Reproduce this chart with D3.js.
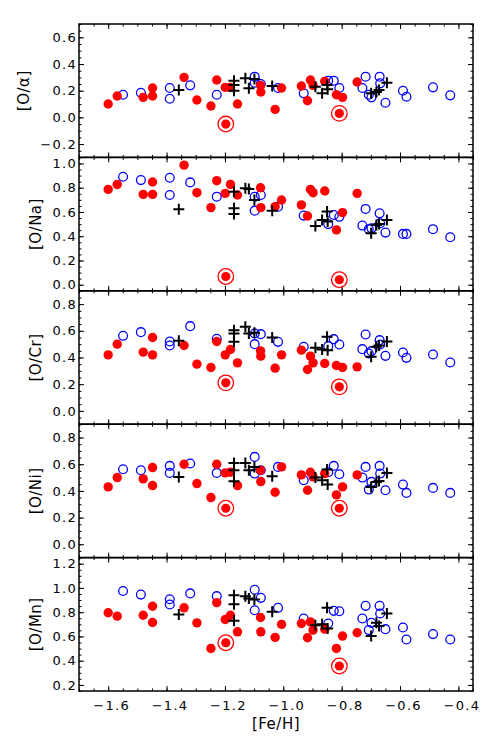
<!DOCTYPE html>
<html>
<head>
<meta charset="utf-8">
<script src="https://cdn.jsdelivr.net/npm/d3@7"></script>
<style>
  body { margin: 0; background: #fff; }
  svg { display: block; }
</style>
</head>
<body>
<svg id="chart" width="496" height="741"></svg>
<script>
// ── data: [Fe/H] per star and one ratio array per panel ──
const PANEL_LABELS = ['[O/α]', '[O/Na]', '[O/Cr]', '[O/Ni]', '[O/Mn]'];
const X_TICKS = [-1.6, -1.4, -1.2, -1.0, -0.8, -0.6, -0.4];
const Y_TICKS = [
  [-0.2, 0.0, 0.2, 0.4, 0.6],
  [0.0, 0.2, 0.4, 0.6, 0.8, 1.0],
  [0.0, 0.2, 0.4, 0.6, 0.8],
  [0.0, 0.2, 0.4, 0.6, 0.8],
  [0.2, 0.4, 0.6, 0.8, 1.0, 1.2],
];

// red filled circles
const FE_RED = [-1.600, -1.569, -1.480, -1.448, -1.448, -1.340, -1.296, -1.248, -1.228, -1.199, -1.181, -1.157,
                -1.078, -1.077, -1.028, -1.006, -0.938, -0.917, -0.907, -0.898, -0.858, -0.818, -0.797, -0.747];
const RED_O_ALPHA = [0.10, 0.16, 0.15, 0.22, 0.16, 0.30, 0.13, 0.085, 0.28, 0.225, 0.225, 0.10,
                     0.24, 0.19, 0.06, 0.22, 0.235, 0.125, 0.28, 0.24, 0.27, 0.17, 0.15, 0.265];
const RED_O_NA = [0.786, 0.827, 0.745, 0.847, 0.745, 0.986, 0.759, 0.636, 0.858, 0.753, 0.827, 0.740,
                  0.800, 0.636, 0.644, 0.699, 0.658, 0.567, 0.786, 0.759, 0.773, 0.452, 0.595, 0.753];
const RED_O_CR = [0.42, 0.50, 0.44, 0.55, 0.42, 0.49, 0.35, 0.325, 0.52, 0.42, 0.46, 0.36,
                  0.45, 0.41, 0.32, 0.42, 0.455, 0.31, 0.41, 0.36, 0.355, 0.34, 0.325, 0.33];
const RED_O_NI = [0.43, 0.50, 0.49, 0.575, 0.44, 0.60, 0.455, 0.35, 0.60, 0.535, 0.54, 0.44,
                  0.555, 0.47, 0.39, 0.58, 0.52, 0.405, 0.54, 0.505, 0.53, 0.37, 0.43, 0.52];
const RED_O_MN = [0.795, 0.767, 0.775, 0.849, 0.715, 0.836, 0.712, 0.501, 0.879, 0.740, 0.775, 0.638,
                  0.756, 0.638, 0.592, 0.699, 0.707, 0.589, 0.72, 0.652, 0.66, 0.501, 0.603, 0.630];

// ringed red stars
const FE_RING = [-1.197, -0.808];
const RING_O_ALPHA = [-0.05, 0.03];
const RING_O_NA = [0.068, 0.041];
const RING_O_CR = [0.21, 0.18];
const RING_O_NI = [0.27, 0.27];
const RING_O_MN = [0.548, 0.356];

// blue open circles
const FE_BLUE = [-1.549, -1.488, -1.389, -1.389, -1.319, -1.228, -1.098, -1.098, -1.077, -1.018, -0.930, -0.846,
                 -0.827, -0.808, -0.729, -0.718, -0.707, -0.698, -0.670, -0.668, -0.650, -0.590, -0.578, -0.487, -0.428];
const BLUE_O_ALPHA = [0.17, 0.185, 0.22, 0.14, 0.24, 0.17, 0.305, 0.26, 0.25, 0.22, 0.18, 0.275,
                      0.275, 0.22, 0.22, 0.305, 0.17, 0.15, 0.305, 0.255, 0.11, 0.20, 0.155, 0.225, 0.165];
const BLUE_O_NA = [0.89, 0.863, 0.882, 0.74, 0.844, 0.726, 0.726, 0.611, 0.74, 0.644, 0.57, 0.50,
                   0.575, 0.56, 0.488, 0.625, 0.458, 0.465, 0.589, 0.507, 0.43, 0.419, 0.419, 0.458, 0.392];
const BLUE_O_CR = [0.5625, 0.59, 0.52, 0.49, 0.635, 0.54, 0.58, 0.50, 0.575, 0.5175, 0.48, 0.485,
                   0.5375, 0.4975, 0.4625, 0.5725, 0.43, 0.4475, 0.53, 0.4975, 0.4125, 0.4375, 0.3975, 0.4225, 0.3625];
const BLUE_O_NI = [0.5625, 0.555, 0.5875, 0.535, 0.605, 0.535, 0.655, 0.53, 0.555, 0.58, 0.48, 0.54,
                   0.5875, 0.525, 0.50, 0.58, 0.41, 0.4675, 0.5875, 0.53, 0.405, 0.4475, 0.385, 0.4225, 0.385];
const BLUE_O_MN = [0.975, 0.945, 0.907, 0.863, 0.955, 0.932, 0.985, 0.816, 0.918, 0.836, 0.748, 0.707,
                   0.811, 0.808, 0.748, 0.852, 0.652, 0.712, 0.852, 0.789, 0.660, 0.674, 0.575, 0.619, 0.575];

// black plus signs
const FE_PLUS = [-1.358, -1.169, -1.169, -1.169, -1.130, -1.118, -1.099, -1.038,
                 -0.890, -0.867, -0.850, -0.848, -0.699, -0.681, -0.672, -0.645];
const PLUS_O_ALPHA = [0.205, 0.275, 0.2425, 0.20, 0.2925, 0.2175, 0.2875, 0.235,
                      0.23, 0.18, 0.2425, 0.21, 0.18, 0.19, 0.205, 0.26];
const PLUS_O_NA = [0.622, 0.767, 0.630, 0.584, 0.795, 0.789, 0.699, 0.611,
                   0.485, 0.534, 0.603, 0.521, 0.425, 0.493, 0.501, 0.534];
const PLUS_O_CR = [0.525, 0.605, 0.58, 0.5175, 0.63, 0.58, 0.585, 0.55,
                   0.4725, 0.46, 0.555, 0.455, 0.405, 0.48, 0.49, 0.52];
const PLUS_O_NI = [0.505, 0.61, 0.555, 0.4725, 0.61, 0.555, 0.58, 0.51,
                   0.50, 0.48, 0.56, 0.4475, 0.43, 0.4675, 0.475, 0.535];
const PLUS_O_MN = [0.781, 0.940, 0.866, 0.729, 0.932, 0.912, 0.904, 0.803,
                   0.693, 0.701, 0.836, 0.666, 0.603, 0.712, 0.685, 0.789];

const RED  = [RED_O_ALPHA, RED_O_NA, RED_O_CR, RED_O_NI, RED_O_MN];
const RING = [RING_O_ALPHA, RING_O_NA, RING_O_CR, RING_O_NI, RING_O_MN];
const BLUE = [BLUE_O_ALPHA, BLUE_O_NA, BLUE_O_CR, BLUE_O_NI, BLUE_O_MN];
const PLUS = [PLUS_O_ALPHA, PLUS_O_NA, PLUS_O_CR, PLUS_O_NI, PLUS_O_MN];

// ── layout ──
const FONT = 'DejaVu Sans, sans-serif';
const L = 79, R = 473, TOP = 24, BOT = 691;
const PH = (BOT - TOP) / PANEL_LABELS.length;
const Y_DOMAINS = [[-0.3, 0.7], [-0.05, 1.05], [-0.1, 0.9], [-0.1, 0.9], [0.15, 1.25]];

const svg = d3.select('#chart');
const x = d3.scaleLinear([-1.7, -0.35], [L, R]);
const xMinor = d3.range(-1.7, -0.349, 0.05);
const fmt = d3.format('.1f');

function styleAxis(g) {
  g.select('.domain').remove();
  g.selectAll('line').attr('stroke', '#000').attr('stroke-width', 1);
  g.selectAll('text')
    .attr('font-family', FONT).attr('font-size', 13)
    .attr('letter-spacing', '1.3px').attr('fill', '#000');
}

PANEL_LABELS.forEach((label, p) => {
  const top = TOP + p * PH;
  const y = d3.scaleLinear(Y_DOMAINS[p], [top + PH, top]);
  const [y0, y1] = Y_DOMAINS[p];
  const yMinor = d3.range(Math.ceil(y0 / 0.05) * 0.05, y1 + 1e-9, 0.05);
  const g = svg.append('g');

  // minor ticks, all four sides
  g.append('g').attr('transform', `translate(${L},0)`)
    .call(d3.axisLeft(y).tickValues(yMinor).tickSize(-2.5).tickFormat('')).call(styleAxis);
  g.append('g').attr('transform', `translate(${R},0)`)
    .call(d3.axisRight(y).tickValues(yMinor).tickSize(-2.5).tickFormat('')).call(styleAxis);
  g.append('g').attr('transform', `translate(0,${top + PH})`)
    .call(d3.axisBottom(x).tickValues(xMinor).tickSize(-2.5).tickFormat('')).call(styleAxis);
  g.append('g').attr('transform', `translate(0,${top})`)
    .call(d3.axisTop(x).tickValues(xMinor).tickSize(-2.5).tickFormat('')).call(styleAxis);

  // major ticks
  const yAx = g.append('g').attr('transform', `translate(${L},0)`)
    .call(d3.axisLeft(y).tickValues(Y_TICKS[p]).tickSize(-5).tickPadding(2).tickFormat(fmt))
    .call(styleAxis);
  g.append('g').attr('transform', `translate(${R},0)`)
    .call(d3.axisRight(y).tickValues(Y_TICKS[p]).tickSize(-5).tickFormat('')).call(styleAxis);
  const last = p === PANEL_LABELS.length - 1;
  const xAx = g.append('g').attr('transform', `translate(0,${top + PH})`)
    .call(d3.axisBottom(x).tickValues(X_TICKS).tickSize(-5).tickPadding(10)
      .tickFormat(last ? fmt : ''))
    .call(styleAxis);
  xAx.selectAll('text').attr('dx', 3);
  g.append('g').attr('transform', `translate(0,${top})`)
    .call(d3.axisTop(x).tickValues(X_TICKS).tickSize(-5).tickFormat('')).call(styleAxis);

  g.append('rect')
    .attr('x', L).attr('y', top).attr('width', R - L).attr('height', PH)
    .attr('fill', 'none').attr('stroke', '#000').attr('stroke-width', 1.5);

  // y title, placed left of the widest tick label
  const bb = yAx.node().getBBox();
  const tx = L + bb.x - 16;
  g.append('text')
    .attr('transform', `translate(${tx},${top + PH / 2}) rotate(-90)`)
    .attr('text-anchor', 'middle').attr('dominant-baseline', 'central')
    .attr('font-family', FONT).attr('font-size', 15).attr('letter-spacing', '0.5px')
    .text(label);

  // marks
  const marks = g.append('g');
  marks.selectAll('.blue').data(FE_BLUE.map((f, i) => [f, BLUE[p][i]])).join('circle')
    .attr('cx', d => x(d[0])).attr('cy', d => y(d[1])).attr('r', 4.4)
    .attr('fill', 'none').attr('stroke', '#0000ff').attr('stroke-width', 1.3);
  marks.selectAll('.red').data(FE_RED.map((f, i) => [f, RED[p][i]])).join('circle')
    .attr('cx', d => x(d[0])).attr('cy', d => y(d[1])).attr('r', 4.7)
    .attr('fill', '#ff0000');
  const ring = marks.selectAll('.ring').data(FE_RING.map((f, i) => [f, RING[p][i]])).join('g')
    .attr('transform', d => `translate(${x(d[0])},${y(d[1])})`);
  ring.append('circle').attr('r', 7.8).attr('fill', 'none')
    .attr('stroke', '#ff0000').attr('stroke-width', 1.3);
  ring.append('circle').attr('r', 4.6).attr('fill', '#ff0000');
  marks.selectAll('.plus').data(FE_PLUS.map((f, i) => [f, PLUS[p][i]])).join('path')
    .attr('transform', d => `translate(${x(d[0])},${y(d[1])})`)
    .attr('d', 'M-5.5,0H5.5M0,-5.5V5.5')
    .attr('stroke', '#000').attr('stroke-width', 2);
});

// x title
svg.append('text')
  .attr('x', (L + R) / 2).attr('y', 729)
  .attr('text-anchor', 'middle')
  .attr('font-family', FONT).attr('font-size', 15).attr('letter-spacing', '0.5px')
  .text('[Fe/H]');
</script>
</body>
</html>
